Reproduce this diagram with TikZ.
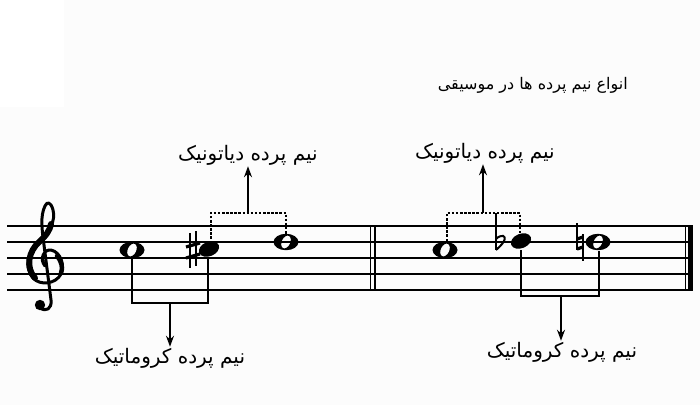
\documentclass[tikz,border=0pt]{standalone}
\usepackage{fontspec}
\usepackage{tikz}
\usetikzlibrary{arrows.meta,positioning,calc}
\TeXXeTstate=1
\newfontfamily\farsifont[Script=Arabic]{DejaVu Sans}

\tikzset{
  staffline/.style={line width=1.4pt},
  label/.style={font=\farsifont\fontsize{20}{24}\selectfont, inner sep=1pt},
  bracket/.style={line width=1.5pt},
  dotbracket/.style={line width=1.4pt, dash pattern=on 2.5pt off 1.6pt},
  pointer/.style={line width=1.6pt, -{Stealth[length=11pt,width=8pt]}},
}

\newcommand{\wholenote}[1]{%
  \fill[even odd rule] (#1) ellipse[x radius=12.5, y radius=8.2]
    [rotate around={-25:(#1)}] (#1) ellipse[x radius=4.3, y radius=6.8];}
\newcommand{\blacknote}[1]{%
  \fill[rotate around={22:(#1)}] (#1) ellipse[x radius=10.5, y radius=7.2];}

\begin{document}
\begin{tikzpicture}[x=1pt,y=-1pt]
  \fill[gray!2] (0,0) rectangle (700,405);
  \fill[white] (0,0) rectangle (64,107);
  \useasboundingbox (0,0) rectangle (700,405);

  % staff
  \foreach \y in {226,242,258,274,290}
    \draw[staffline] (7,\y) -- (693,\y);
  \draw[line width=1.4pt] (370.5,225.3) -- (370.5,290.7);
  \draw[line width=1.4pt] (375,225.3) -- (375,290.7);
  \draw[line width=1.4pt] (685.5,225.3) -- (685.5,290.7);
  \draw[line width=5pt] (690.5,225.3) -- (690.5,290.7);

  % clef
  \draw[line width=3pt, line cap=round, line join=round]
    (45,266) .. controls (39,259) and (44,249) .. (51,250)
    .. controls (61,252) and (65,266) .. (61,274)
    .. controls (56,284) and (40,286) .. (33,278)
    .. controls (23,266) and (29,250) .. (39,241)
    .. controls (49,232) and (56,221) .. (53,210)
    .. controls (51,202) and (47,201) .. (45,206)
    .. controls (40,216) and (42,230) .. (44,245)
    -- (51,300)
    .. controls (52,309) and (46,312) .. (40,308);
  \draw[line width=6pt, line cap=round]
    (35,278) .. controls (25,267) and (29,251) .. (39,242)
    .. controls (46,236) and (50,230) .. (51,224);
  \draw[line width=4.5pt, line cap=round]
    (57,256) .. controls (62,262) and (63,268) .. (61,273);
  \fill (40,305) circle (5.2);

  % title
  \node[label, font=\farsifont\fontsize{16}{19}\selectfont, anchor=east] (title) at (629,85)
    {\beginR انواع نیم پرده ها در موسیقی\endR};

  % notes
  \coordinate (n1) at (132,250);
  \coordinate (n2) at (209,249);
  \coordinate (n3) at (286,242);
  \coordinate (n4) at (445,250);
  \coordinate (n5) at (521,241);
  \coordinate (n6) at (598,242);

  \wholenote{n1}
  \blacknote{n2}
  \wholenote{n3}
  \wholenote{n4}
  \blacknote{n5}
  \wholenote{n6}

  % sharp
  \begin{scope}[shift={(193,250)}]
    \draw[line width=1.5pt] (-3,-17) -- (-3,18);
    \draw[line width=1.5pt] (3,-19) -- (3,16);
    \draw[line width=3.2pt] (-7,-3) -- (7,-7);
    \draw[line width=3.2pt] (-7,8) -- (7,4);
  \end{scope}
  % flat
  \begin{scope}[shift={(498,241)}]
    \draw[line width=1.5pt] (-2,-28) -- (-2,9);
    \draw[line width=2pt] (-2,-2) .. controls (3,-7) and (9,-6) .. (6,0)
      .. controls (4,4) and (0,7) .. (-2,9);
  \end{scope}
  % natural
  \begin{scope}[shift={(580,242)}]
    \draw[line width=1.5pt] (-3,-19) -- (-3,8);
    \draw[line width=1.5pt] (3,-8) -- (3,19);
    \draw[line width=3.2pt] (-3,-3) -- (3,-5);
    \draw[line width=3.2pt] (-3,7) -- (3,5);
  \end{scope}

  % chromatic, first measure
  \coordinate (b1) at (170,303);
  \draw[bracket] ($(n1)+(0,9)$) |- (b1) -| ($(n2)+(-1,8)$);
  \node[label] (l1) at (170,358) {\beginR نیم پرده کروماتیک\endR};
  \draw[pointer] (b1) -- (b1 |- l1.north);

  % diatonic, first measure
  \coordinate (t1) at (248,213);
  \draw[dotbracket] ($(n2)+(2,-6)$) |- (t1) -| ($(n3)+(0,-7)$);
  \node[label] (l2) at (248,155) {\beginR نیم پرده دیاتونیک\endR};
  \draw[pointer] (t1) -- (t1 |- l2.south);

  % diatonic, second measure
  \coordinate (t2) at (483,213);
  \draw[dotbracket] ($(n4)+(2,-9)$) |- (t2) -| ($(n5)+(-1,-6)$);
  \node[label] (l3) at (485,153) {\beginR نیم پرده دیاتونیک\endR};
  \draw[pointer] (t2) -- (t2 |- l3.south);

  % chromatic, second measure
  \coordinate (b2) at (561,296);
  \draw[bracket] ($(n5)+(0,9)$) |- (b2) -| ($(n6)+(1,9)$);
  \node[label] (l4) at (562,352) {\beginR نیم پرده کروماتیک\endR};
  \draw[pointer] (b2) -- (b2 |- l4.north);
\end{tikzpicture}
\end{document}
